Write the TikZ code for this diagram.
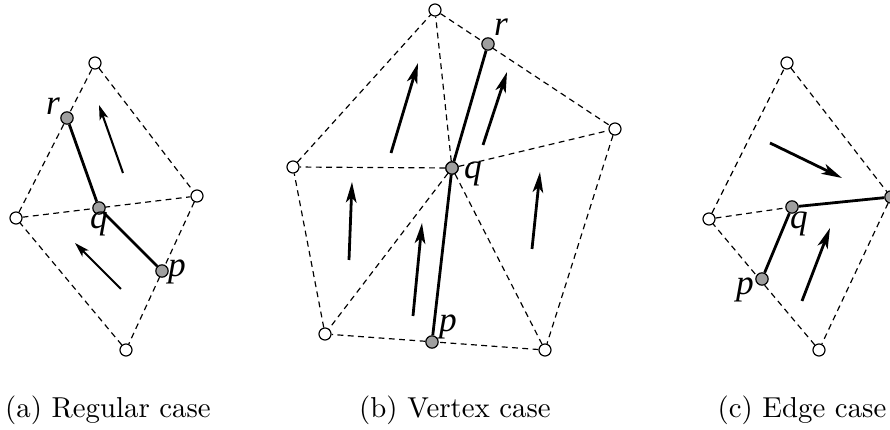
\documentclass[tikz,border=0pt]{standalone}
\usepackage{fontspec}
\newfontfamily\lblfont{Liberation Serif}
\usetikzlibrary{arrows.meta}

\tikzset{
  vtx/.style={circle, draw, fill=white, inner sep=0pt, minimum size=4.1pt, line width=0.4pt},
  pnt/.style={circle, draw, fill=gray!75, inner sep=0pt, minimum size=4.2pt, line width=0.4pt},
  mesh/.style={dash pattern=on 2pt off 1.5pt, line width=0.4pt},
  cut/.style={line width=0.95pt},
  flow/.style={-{Stealth[length=5pt,width=3pt,inset=1.2pt]}, line width=0.7pt},
  bigflow/.style={-{Stealth[length=7pt,width=3.6pt,inset=1.8pt]}, line width=0.95pt},
  lbl/.style={font=\lblfont\itshape\fontsize{12}{12}\selectfont, inner sep=0pt},
  capt/.style={anchor=base, inner sep=0pt, font=\fontsize{9.8}{12}\selectfont}
}

\begin{document}
\begin{tikzpicture}[x=0.34pt, y=-0.34pt]
    \useasboundingbox (0,0) rectangle (890,430);

    % (a) Regular case
    \node[vtx] (at) at (95,63) {};
    \node[vtx] (ar) at (197,196) {};
    \node[vtx] (al) at (16,218) {};
    \node[vtx] (ab) at (126,350) {};
    \draw[mesh] (at) -- (ar) -- (ab) -- (al) -- (at);
    \draw[mesh] (al) -- (ar);
    \node[pnt] (ra) at (67,118) {};
    \node[pnt] (qa) at (99,208) {};
    \node[pnt] (pa) at (162,271) {};
    \draw[cut] (ra) -- (qa) -- (pa);
    \node[lbl] (lra) at (53,106) {r};
    \node[lbl] (lqa) at (99,224) {q};
    \node[lbl] (lpa) at (177,272) {p};
    \coordinate (a1s) at (123,173);
    \coordinate (a1e) at (99,105);
    \coordinate (a2s) at (121,289);
    \coordinate (a2e) at (75,243);
    \draw[flow] (a1s) -- (a1e);
    \draw[flow] (a2s) -- (a2e);

    % (b) Vertex case
    \node[vtx] (bt) at (435,10) {};
    \node[vtx] (br) at (615,129) {};
    \node[vtx] (bl) at (293,167) {};
    \node[vtx] (bbl) at (325,334) {};
    \node[vtx] (bbr) at (545,350) {};
    \node[pnt] (qb) at (452,168) {};
    \draw[mesh] (bt) -- (br) -- (bbr) -- (bbl) -- (bl) -- (bt);
    \foreach \v in {bt,br,bbr,bbl,bl} \draw[mesh] (qb) -- (\v);
    \node[pnt] (rb) at (488,44) {};
    \node[pnt] (pb) at (432,342) {};
    \node[pnt] (qb) at (452,168) {};
    \draw[cut] (rb) -- (qb) -- (pb);
    \node[lbl] (lrb) at (501,27) {r};
    \node[lbl] (lqb) at (473,174) {q};
    \node[lbl] (lpb) at (448,327) {p};
    \coordinate (b1s) at (391,153);
    \coordinate (b1e) at (418,63);
    \coordinate (b2s) at (483,145);
    \coordinate (b2e) at (507,72);
    \coordinate (b3s) at (349,260);
    \coordinate (b3e) at (352,182);
    \coordinate (b4s) at (413,316);
    \coordinate (b4e) at (422,223);
    \coordinate (b5s) at (532,249);
    \coordinate (b5e) at (540,172);
    \foreach \s/\e in {b1s/b1e,b2s/b2e,b3s/b3e,b4s/b4e,b5s/b5e}
        \draw[bigflow] (\s) -- (\e);

    % (c) Edge case
    \node[vtx] (ct) at (787,63) {};
    \node[vtx] (cl) at (709,219) {};
    \node[vtx] (cb) at (819,350) {};
    \node[pnt] (rc) at (891,197) {};
    \draw[mesh] (ct) -- (rc) -- (cb) -- (cl) -- (ct);
    \node[pnt] (qc) at (792,207) {};
    \node[pnt] (pc) at (762,279) {};
    \draw[mesh] (cl) -- (qc);
    \draw[cut] (rc) -- (qc) -- (pc);
    \node[lbl] (lrc) at (899,180) {r};
    \node[lbl] (lqc) at (799,224) {q};
    \node[lbl] (lpc) at (745,290) {p};
    \coordinate (c1s) at (770,143);
    \coordinate (c1e) at (842,178);
    \coordinate (c2s) at (802,301);
    \coordinate (c2e) at (830,228);
    \draw[bigflow] (c1s) -- (c1e);
    \draw[bigflow] (c2s) -- (c2e);

    % Captions
    \node[capt] (capa) at (108,418) {(a) Regular case};
    \node[capt] (capb) at (455,418) {(b) Vertex case};
    \node[capt] (capc) at (802,418) {(c) Edge case};
\end{tikzpicture}
\end{document}
